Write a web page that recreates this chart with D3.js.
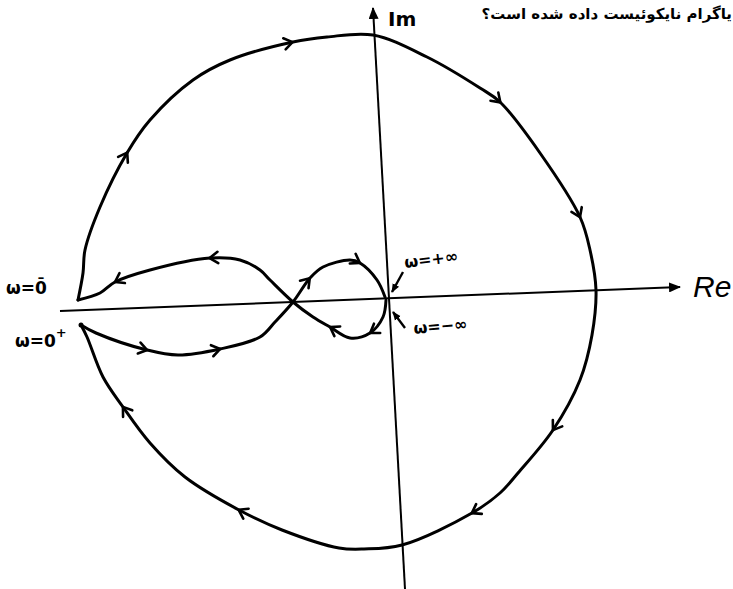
<!DOCTYPE html>
<html>
<head>
<meta charset="utf-8">
<script src="https://cdn.jsdelivr.net/npm/d3@7"></script>
<style>
body { margin: 0; background: #fff; }
svg { display: block; }
</style>
</head>
<body>
<div id="nyquist"></div>
<script>
// nyquist plot, values in Re / Im units (origin at 0,0)
// outer loop: from w = 0- (left corner) clockwise round to w = 0+
var outerLoop = [[-1.55,-0.01],[-1.525,0.125],[-1.515,0.24],[-1.44,0.455],[-1.305,0.725],[-1.19,0.89],
    [-0.975,1.09],[-0.79,1.19],[-0.475,1.28],[-0.305,1.305],[-0.075,1.315],[0.195,1.205],
    [0.46,1.05],[0.56,0.98],[0.76,0.725],[0.96,0.405],[1.01,0.24],[1.04,0.04],[1.02,-0.185],[0.96,-0.41],
    [0.825,-0.66],[0.65,-0.875],[0.56,-0.975],[0.42,-1.075],[0.07,-1.235],[-0.12,-1.255],[-0.245,-1.25],
    [-0.53,-1.16],[-0.745,-1.06],[-1.015,-0.895],[-1.19,-0.725],[-1.325,-0.545],[-1.425,-0.395],
    [-1.505,-0.195],[-1.535,-0.135]];
// w = 0+ up to w = +inf (through the crossing, upper lobe)
var upperBranch = [[-1.535,-0.135],[-1.46,-0.175],[-1.205,-0.26],[-1.05,-0.285],[-0.84,-0.255],
    [-0.64,-0.195],[-0.565,-0.12],[-0.475,-0.02],[-0.39,0.1],[-0.325,0.155],[-0.19,0.19],[-0.14,0.175],
    [-0.055,0.09],[-0.015,0.005]];
// w = -inf down through the lower lobe, back to w = 0-
var lowerBranch = [[-0.01,-0.01],[-0.025,-0.095],[-0.09,-0.175],[-0.19,-0.2],[-0.29,-0.145],
    [-0.375,-0.095],[-0.475,-0.02],[-0.59,0.09],[-0.64,0.14],[-0.74,0.19],[-0.89,0.2],[-1.19,0.14],
    [-1.365,0.08],[-1.44,0.025],[-1.55,-0.01]];

// where the direction arrows sit on each branch
var outerArrows = [[-1.305,0.725],[-0.475,1.28],[0.56,0.98],[0.96,0.405],[0.825,-0.66],[0.42,-1.075],
    [-0.745,-1.06],[-1.325,-0.545]];
var upperArrows = [[-1.205,-0.26],[-0.84,-0.255],[-0.39,0.1],[-0.14,0.175]];
var lowerArrows = [[-0.09,-0.175],[-0.29,-0.145],[-0.89,0.2],[-1.365,0.08]];

// hand drawn axes (a little tilted)
var reAxis = [[-1.64,-0.065],[1.46,0.055]];
var imAxis = [[0.085,-1.455],[-0.075,1.45]];

// small pointers to the w = +/- inf labels
var pointers = [
    [[0.075,0.13],[0.02,0.03]],
    [[0.085,-0.15],[0.025,-0.07]]
];

var width = 733, height = 589;

var svg = d3.select("#nyquist")
  .append("svg")
    .attr("width", width)
    .attr("height", height);

var x = d3.scaleLinear().domain([-2, 2]).range([-12, 788]);
var y = d3.scaleLinear().domain([-1, 1]).range([498, 98]);

// filled arrow heads
var defs = svg.append("defs");
defs.append("marker")
    .attr("id", "axhead")
    .attr("viewBox", "0 0 12 10")
    .attr("refX", 11).attr("refY", 5)
    .attr("markerWidth", 12).attr("markerHeight", 10)
    .attr("markerUnits", "userSpaceOnUse")
    .attr("orient", "auto")
  .append("path")
    .attr("d", "M0,0 L12,5 L0,10 Z")
    .attr("fill", "#000");
defs.append("marker")
    .attr("id", "ptrhead")
    .attr("viewBox", "0 0 10 10")
    .attr("refX", 9).attr("refY", 5)
    .attr("markerWidth", 9).attr("markerHeight", 9)
    .attr("markerUnits", "userSpaceOnUse")
    .attr("orient", "auto")
  .append("path")
    .attr("d", "M0,1 L10,5 L0,9 Z")
    .attr("fill", "#000");

var straight = d3.line()
    .x(function(d) { return x(d[0]); })
    .y(function(d) { return y(d[1]); });

// axes
svg.selectAll(".axis")
    .data([reAxis, imAxis])
    .enter().append("path")
    .attr("class", "axis")
    .attr("d", straight)
    .attr("fill", "none")
    .attr("stroke", "#000")
    .attr("stroke-width", 2)
    .attr("marker-end", "url(#axhead)");

var curve = d3.line()
    .x(function(d) { return x(d[0]); })
    .y(function(d) { return y(d[1]); })
    .curve(d3.curveCatmullRom.alpha(0.5));

var branches = [
    {pts: outerLoop, arrows: outerArrows},
    {pts: upperBranch, arrows: upperArrows},
    {pts: lowerBranch, arrows: lowerArrows}
];

branches.forEach(function(b) {
    var path = svg.append("path")
        .attr("d", curve(b.pts))
        .attr("fill", "none")
        .attr("stroke", "#000")
        .attr("stroke-width", 3)
        .attr("stroke-linecap", "round")
        .attr("stroke-linejoin", "round");

    var node = path.node();
    var total = node.getTotalLength();

    // open chevrons, pointing the way the curve travels
    b.arrows.forEach(function(a) {
        var ax = x(a[0]), ay = y(a[1]);
        var best = 0, bestD = Infinity;
        for (var l = 0; l <= total; l += 1) {
            var p = node.getPointAtLength(l);
            var dd = (p.x - ax) * (p.x - ax) + (p.y - ay) * (p.y - ay);
            if (dd < bestD) { bestD = dd; best = l; }
        }
        var tip = node.getPointAtLength(best);
        var p0 = node.getPointAtLength(Math.max(0, best - 3));
        var p1 = node.getPointAtLength(Math.min(total, best + 3));
        var ang = Math.atan2(p1.y - p0.y, p1.x - p0.x);
        var len = 10, spread = 0.6;
        var a1 = [tip.x - len * Math.cos(ang - spread), tip.y - len * Math.sin(ang - spread)];
        var a2 = [tip.x - len * Math.cos(ang + spread), tip.y - len * Math.sin(ang + spread)];
        svg.append("path")
            .attr("d", "M" + a1 + "L" + [tip.x, tip.y] + "L" + a2)
            .attr("fill", "none")
            .attr("stroke", "#000")
            .attr("stroke-width", 2.6)
            .attr("stroke-linecap", "round")
            .attr("stroke-linejoin", "round");
    });
});

// dot at w = 0+
svg.append("circle")
    .attr("cx", x(outerLoop[outerLoop.length - 1][0]))
    .attr("cy", y(outerLoop[outerLoop.length - 1][1]))
    .attr("r", 2.5)
    .attr("fill", "#000");

// pointers to origin
svg.selectAll(".ptr")
    .data(pointers)
    .enter().append("path")
    .attr("class", "ptr")
    .attr("d", straight)
    .attr("stroke", "#000")
    .attr("stroke-width", 2.4)
    .attr("marker-end", "url(#ptrhead)");

// labels
var lab = "DejaVu Sans, sans-serif";

svg.append("text")
    .attr("x", 388).attr("y", 26)
    .style("font-family", lab).style("font-size", "20px").style("font-weight", "bold")
    .text("Im");

svg.append("text")
    .attr("x", 693).attr("y", 297)
    .style("font-family", "Liberation Sans, sans-serif").style("font-size", "30px")
    .style("font-style", "italic")
    .text("Re");

// w = 0- : bar written over the zero (combining macron)
svg.append("text")
    .attr("x", 6).attr("y", 294)
    .style("font-family", lab).style("font-size", "17px").style("font-weight", "bold")
    .text("ω=0\u0304");

svg.append("text")
    .attr("x", 15).attr("y", 347)
    .style("font-family", lab).style("font-size", "17px").style("font-weight", "bold")
    .text("ω=0")
  .append("tspan")
    .attr("dy", -10)
    .style("font-size", "13px")
    .text("+");

svg.append("text")
    .attr("transform", "translate(405,268) rotate(-7)")
    .style("font-family", lab).style("font-size", "16px").style("font-weight", "bold")
    .text("ω=+∞");

svg.append("text")
    .attr("transform", "translate(414,334) rotate(-5)")
    .style("font-family", lab).style("font-size", "16px").style("font-weight", "bold")
    .text("ω=−∞");

// question text, top right
svg.append("text")
    .attr("x", 732).attr("y", 19)
    .attr("text-anchor", "end")
    .style("font-family", lab).style("font-size", "15px").style("font-weight", "bold")
    .text("یاگرام نایکوئیست داده شده است؟");
</script>
</body>
</html>
